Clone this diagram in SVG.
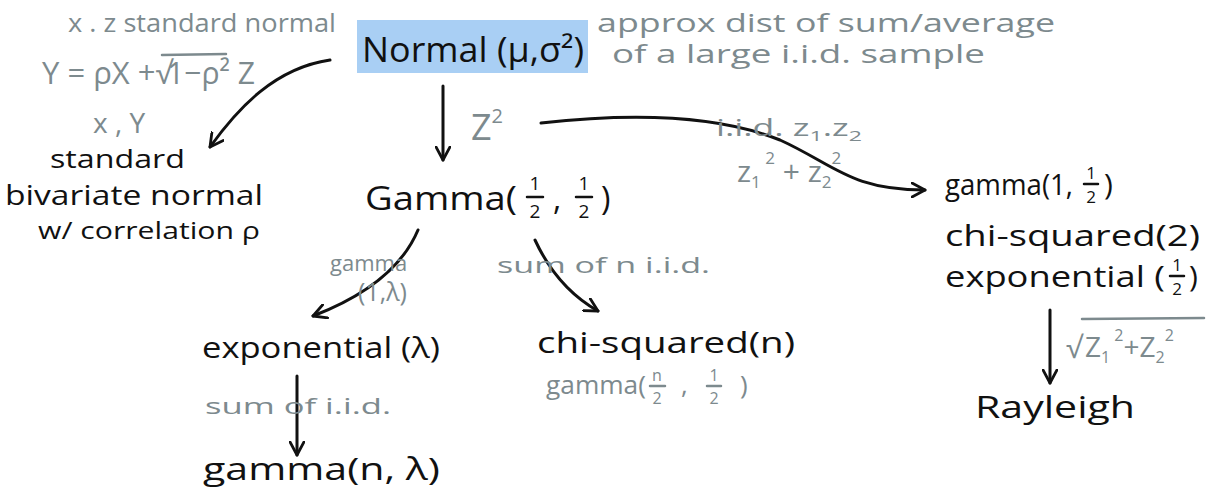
<svg xmlns="http://www.w3.org/2000/svg" width="1206" height="496" viewBox="0 0 1206 496">
<style>
.n{font-family:"Open Sans","Liberation Sans",sans-serif;fill:#111;}
.g{font-family:"Open Sans","Liberation Sans",sans-serif;fill:#7d8a8e;}
.e{fill:none;stroke:#111;stroke-width:3;stroke-linecap:round;stroke-linejoin:round;}
.bar{stroke-width:2.5;stroke-linecap:round;}
</style>
<defs>
<marker id="ah" viewBox="0 0 16 16" refX="14" refY="8" markerWidth="16" markerHeight="16" markerUnits="userSpaceOnUse" orient="auto">
<path d="M1,1 L14,8 L1,15" fill="none" stroke="#111" stroke-width="2.8" stroke-linecap="round" stroke-linejoin="round"/>
</marker>
</defs>
<rect width="1206" height="496" fill="#ffffff"/>

<g id="connectors">
<path class="e" d="M330,60 C275,68 238,108 210,147" marker-end="url(#ah)"/>
<path class="e" d="M443,86 L443,160" marker-end="url(#ah)"/>
<path class="e" d="M541,123 C640,112 720,116 780,140 C835,165 850,190 925,190" marker-end="url(#ah)"/>
<path class="e" d="M418,230 C402,268 365,296 313,316" marker-end="url(#ah)"/>
<path class="e" d="M535,240 C548,268 568,294 598,311" marker-end="url(#ah)"/>
<path class="e" d="M297,376 L297,455" marker-end="url(#ah)"/>
<path class="e" d="M1050,310 L1050,383" marker-end="url(#ah)"/>
</g>

<g id="labels">
<text class="g" x="68" y="32" font-size="25" textLength="268" lengthAdjust="spacingAndGlyphs">x . z standard normal</text>
<text class="g" x="42" y="84" font-size="31">Y = ρX +√</text>
<text class="g" x="167" y="84" font-size="31" textLength="88" lengthAdjust="spacingAndGlyphs">1−ρ² Z</text>
<line x1="162" y1="55" x2="226" y2="54" stroke="#7d8a8e" class="bar"/>
<text class="g" x="93" y="133" font-size="28">x , Y</text>
<text class="g" x="597" y="32" font-size="25" textLength="458" lengthAdjust="spacingAndGlyphs">approx dist  of sum/average</text>
<text class="g" x="612" y="63" font-size="25" textLength="373" lengthAdjust="spacingAndGlyphs">of a large i.i.d. sample</text>
<text class="g" x="471" y="140" font-size="36">Z<tspan font-size="20" dy="-17">2</tspan></text>
<text class="g" x="716" y="136" font-size="23" textLength="146" lengthAdjust="spacingAndGlyphs">i.i.d. z<tspan font-size="15" dy="5">1</tspan><tspan dy="-5">.z</tspan><tspan font-size="15" dy="5">2</tspan></text>
<text class="g" x="737" y="182" font-size="30">z<tspan font-size="17" dy="6">1</tspan><tspan font-size="17" dy="-24"> 2</tspan><tspan dy="18"> + z</tspan><tspan font-size="17" dy="6">2</tspan><tspan font-size="17" dy="-24">2</tspan></text>
<text class="g" x="330" y="271" font-size="22">gamma</text>
<text class="g" x="358" y="301" font-size="25">(1,λ)</text>
<text class="g" x="497" y="273" font-size="22" textLength="213" lengthAdjust="spacingAndGlyphs">sum of n i.i.d.</text>
<text class="g" x="546" y="394" font-size="26" textLength="100" lengthAdjust="spacingAndGlyphs">gamma(</text>
<text class="g" x="657" y="381" font-size="16" text-anchor="middle">n</text>
<line x1="650" y1="386" x2="665" y2="386" stroke="#7d8a8e" class="bar"/>
<text class="g" x="657" y="404" font-size="16" text-anchor="middle">2</text>
<text class="g" x="681" y="394" font-size="26">,</text>
<text class="g" x="714" y="381" font-size="16" text-anchor="middle">1</text>
<line x1="707" y1="386" x2="721" y2="386" stroke="#7d8a8e" class="bar"/>
<text class="g" x="714" y="404" font-size="16" text-anchor="middle">2</text>
<text class="g" x="740" y="394" font-size="26">)</text>
<text class="g" x="205" y="414" font-size="22" textLength="186" lengthAdjust="spacingAndGlyphs">sum of i.i.d.</text>
<text class="g" x="1066" y="358" font-size="30">√</text>
<line x1="1082" y1="319" x2="1204" y2="318" stroke="#7d8a8e" class="bar"/>
<text class="g" x="1085" y="357" font-size="28">Z<tspan font-size="16" dy="6">1</tspan><tspan font-size="16" dy="-22"> 2</tspan><tspan dy="16">+Z</tspan><tspan font-size="16" dy="6">2</tspan><tspan font-size="16" dy="-22">2</tspan></text>
</g>

<g id="node-normal">
<rect x="357" y="20" width="231" height="53" fill="#a9cff4"/>
<text class="n" x="362" y="62" font-size="34" textLength="222" lengthAdjust="spacingAndGlyphs">Normal (μ,σ²)</text>
</g>

<g id="node-bivariate">
<text class="n" x="50" y="168" font-size="26" textLength="135" lengthAdjust="spacingAndGlyphs">standard</text>
<text class="n" x="5" y="205" font-size="27" textLength="258" lengthAdjust="spacingAndGlyphs">bivariate normal</text>
<text class="n" x="38" y="239" font-size="24" textLength="222" lengthAdjust="spacingAndGlyphs">w/ correlation ρ</text>
</g>

<g id="node-gamma-half">
<text class="n" x="365" y="210" font-size="32" textLength="152" lengthAdjust="spacingAndGlyphs">Gamma(</text>
<text class="n" x="535" y="190" font-size="19" text-anchor="middle">1</text>
<line x1="527" y1="197" x2="543" y2="197" stroke="#111" class="bar"/>
<text class="n" x="535" y="218" font-size="19" text-anchor="middle">2</text>
<text class="n" x="553" y="210" font-size="32">,</text>
<text class="n" x="584" y="190" font-size="19" text-anchor="middle">1</text>
<line x1="576" y1="197" x2="592" y2="197" stroke="#111" class="bar"/>
<text class="n" x="584" y="218" font-size="19" text-anchor="middle">2</text>
<text class="n" x="601" y="210" font-size="32">)</text>
</g>

<g id="node-gamma-1-half">
<text class="n" x="945" y="195" font-size="30" textLength="128" lengthAdjust="spacingAndGlyphs">gamma(1,</text>
<text class="n" x="1091" y="179" font-size="17" text-anchor="middle">1</text>
<line x1="1084" y1="184" x2="1098" y2="184" stroke="#111" class="bar"/>
<text class="n" x="1091" y="203" font-size="17" text-anchor="middle">2</text>
<text class="n" x="1104" y="195" font-size="30">)</text>
<text class="n" x="945" y="246" font-size="30" textLength="255" lengthAdjust="spacingAndGlyphs">chi-squared(2)</text>
<text class="n" x="945" y="287" font-size="30" textLength="220" lengthAdjust="spacingAndGlyphs">exponential (</text>
<text class="n" x="1177" y="271" font-size="17" text-anchor="middle">1</text>
<line x1="1170" y1="276" x2="1184" y2="276" stroke="#111" class="bar"/>
<text class="n" x="1177" y="295" font-size="17" text-anchor="middle">2</text>
<text class="n" x="1189" y="287" font-size="30">)</text>
</g>

<g id="node-exponential">
<text class="n" x="202" y="358" font-size="30" textLength="238" lengthAdjust="spacingAndGlyphs">exponential (λ)</text>
</g>

<g id="node-chi-n">
<text class="n" x="537" y="353" font-size="30" textLength="258" lengthAdjust="spacingAndGlyphs">chi-squared(n)</text>
</g>

<g id="node-gamma-n">
<text class="n" x="203" y="480" font-size="31" textLength="237" lengthAdjust="spacingAndGlyphs">gamma(n, λ)</text>
</g>

<g id="node-rayleigh">
<text class="n" x="975" y="418" font-size="31" textLength="160" lengthAdjust="spacingAndGlyphs">Rayleigh</text>
</g>
</svg>
